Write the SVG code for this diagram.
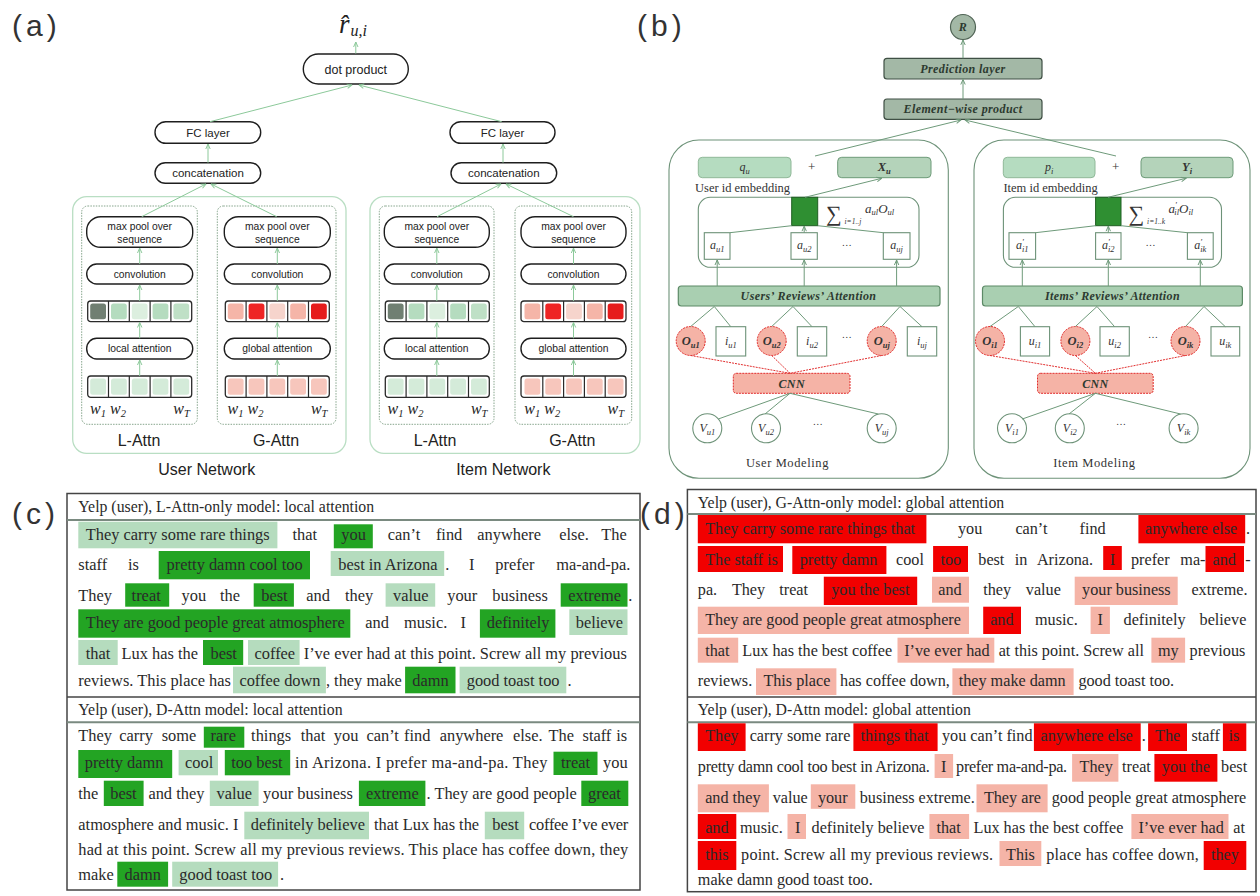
<svg xmlns="http://www.w3.org/2000/svg" width="1260" height="896" viewBox="0 0 1260 896">
<style>
.lbl{font-family:"Liberation Sans",Arial,sans-serif;fill:#333;font-size:30px;letter-spacing:4px}
.pill{fill:#fff;stroke:#1e1e1e;stroke-width:1.4}
.bt{font-family:"Liberation Sans",Arial,sans-serif;fill:#222;text-anchor:middle}
.s10{font-size:10.3px}
.s11{font-size:11.5px}
.s12{font-size:12.5px}
.net{fill:none;stroke:#b9dec3;stroke-width:1.3}
.sub{fill:none;stroke:#86a58c;stroke-width:1;stroke-dasharray:1.5 1.2}
.cellrow{fill:#fff;stroke:#2a2a2a;stroke-width:1.3}
.div{stroke:#2a2a2a;stroke-width:1.2}
.ac{stroke:#8cc99a;stroke-width:1;fill:none}
.w{font-family:"Liberation Serif",serif;font-style:italic;font-size:16px;fill:#222}
.nm{font-family:"Liberation Sans",Arial,sans-serif;font-size:16px;fill:#222;text-anchor:middle}
.bx{fill:#fff;stroke:#6d9278;stroke-width:1.1}
.bl{stroke:#6e9a7a;stroke-width:1;fill:none}
.rl{stroke:#e23030;stroke-width:1;fill:none;stroke-dasharray:2 1}
.mi{font-family:"Liberation Serif",serif;font-style:italic;font-size:12px;fill:#333;text-anchor:middle}
.mo{font-family:"Liberation Serif",serif;font-style:italic;font-weight:bold;font-size:12.5px;fill:#333;text-anchor:middle}
.sb{font-size:8.5px}
.bb{font-family:"Liberation Serif",serif;font-style:italic;font-weight:bold;font-size:12px;fill:#2d3a30;text-anchor:middle;letter-spacing:0.4px}
.cap{font-family:"Liberation Serif",serif;font-size:12.5px;fill:#333}
.t{font-family:"Liberation Serif",serif;font-size:16.4px;fill:#2a2a2a}
.u{font-family:"Liberation Serif",serif;font-size:16.2px;fill:#2a2a2a}
.hd{font-family:"Liberation Serif",serif;font-size:15.8px;fill:#2a2a2a}
.dg{fill:#23a423}
.lg{fill:#b5dcbe}
.rd{fill:#f20000}
.pk{fill:#f5b4a7}
</style>
<defs>
<marker id="ag" viewBox="0 0 6 6" refX="5.5" refY="3" markerWidth="6" markerHeight="6" orient="auto" markerUnits="userSpaceOnUse"><path d="M0.5,0.8 L5.5,3 L0.5,5.2" fill="none" stroke="#8cc99a" stroke-width="1"/></marker>
<marker id="ab" viewBox="0 0 6 6" refX="5.5" refY="3" markerWidth="6" markerHeight="6" orient="auto" markerUnits="userSpaceOnUse"><path d="M0.5,0.8 L5.5,3 L0.5,5.2" fill="none" stroke="#6e9a7a" stroke-width="1"/></marker>
</defs>
<rect width="1260" height="896" fill="#fff"/>

<!-- panel labels -->
<text class="lbl" x="12" y="35.5">(a)</text>
<text class="lbl" x="637" y="35.5">(b)</text>
<text class="lbl" x="12" y="523.5">(c)</text>
<text class="lbl" x="640" y="523.5">(d)</text>

<!-- ============ PANEL A ============ -->
<g id="a-rhat">
<text x="339" y="33" font-family="Liberation Serif,serif" font-style="italic" font-size="27" fill="#222">r&#x302;<tspan font-size="16" dy="3" dx="1">u,i</tspan></text>
</g>
<g id="a-dot"><rect class="pill" x="303.3" y="54" width="105" height="30" rx="15"/><text class="bt s12" x="355.8" y="73.5">dot product</text></g>
<g id="a-fc-user"><rect class="pill" x="155" y="121.7" width="105.7" height="21.6" rx="10.8"/><text class="bt s11" x="208" y="136.5">FC layer</text></g>
<g id="a-concat-user"><rect class="pill" x="155" y="162.7" width="105.7" height="20.6" rx="10.3"/><text class="bt s11" x="208" y="177">concatenation</text></g>
<g id="a-fc-item"><rect class="pill" x="450" y="121.7" width="105" height="21.6" rx="10.8"/><text class="bt s11" x="502.5" y="136.5">FC layer</text></g>
<g id="a-concat-item"><rect class="pill" x="451" y="162.7" width="105.7" height="20.6" rx="10.3"/><text class="bt s11" x="503.8" y="177">concatenation</text></g>

<g id="a-user-network">
<rect class="net" x="72.7" y="196.7" width="273.3" height="256.6" rx="14"/>
<rect class="sub" x="81.7" y="206" width="115.6" height="218.3" rx="6"/>
<rect class="sub" x="217.3" y="206" width="118.7" height="218.3" rx="6"/>
<text class="nm" x="139" y="445.5">L-Attn</text>
<text class="nm" x="276" y="445.5">G-Attn</text>
<text class="nm" x="206.7" y="475" font-size="16.5">User Network</text>
</g>
<g id="a-item-network">
<rect class="net" x="370" y="196.7" width="270" height="256.6" rx="14"/>
<rect class="sub" x="379.3" y="206" width="114.7" height="218.3" rx="6"/>
<rect class="sub" x="515" y="206" width="116.7" height="218.3" rx="6"/>
<text class="nm" x="435" y="445.5">L-Attn</text>
<text class="nm" x="572.3" y="445.5">G-Attn</text>
<text class="nm" x="503.3" y="475" font-size="16.5">Item Network</text>
</g>

<!-- columns -->
<g id="a-col-user-L" transform="translate(86.7,0)">
<rect class="pill" x="0" y="216.7" width="106" height="30.6" rx="14"/><text class="bt s10" x="53" y="229.5">max pool over</text><text class="bt s10" x="53" y="242.5">sequence</text>
<rect class="pill" x="0" y="264" width="106" height="20" rx="10"/><text class="bt s10" x="53" y="277.8">convolution</text>
<rect class="cellrow" x="1" y="301" width="104" height="20.7" rx="3"/>
<rect x="3.5" y="303.5" width="15.8" height="15.7" rx="2.5" fill="#707f72"/><rect x="24.3" y="303.5" width="15.8" height="15.7" rx="2.5" fill="#b5dcbf"/><rect x="45.1" y="303.5" width="15.8" height="15.7" rx="2.5" fill="#dcefdf"/><rect x="65.9" y="303.5" width="15.8" height="15.7" rx="2.5" fill="#b5dcbf"/><rect x="86.7" y="303.5" width="15.8" height="15.7" rx="2.5" fill="#bfe0c6"/>
<path class="div" d="M21.8,301V321.7M42.6,301V321.7M63.4,301V321.7M84.2,301V321.7"/>
<rect class="pill" x="0" y="338.3" width="106" height="20.7" rx="10"/><text class="bt s10" x="53" y="352.3">local attention</text>
<rect class="cellrow" x="1" y="376" width="104" height="21.3" rx="3"/>
<g fill="#d4ebd9"><rect x="3.5" y="378.5" width="15.8" height="16.3" rx="2.5"/><rect x="24.3" y="378.5" width="15.8" height="16.3" rx="2.5"/><rect x="45.1" y="378.5" width="15.8" height="16.3" rx="2.5"/><rect x="65.9" y="378.5" width="15.8" height="16.3" rx="2.5"/><rect x="86.7" y="378.5" width="15.8" height="16.3" rx="2.5"/></g>
<path class="div" d="M21.8,376V397.3M42.6,376V397.3M63.4,376V397.3M84.2,376V397.3"/>
<text class="w" x="3.3" y="413.5">w<tspan font-size="10.5" dy="3">1</tspan></text>
<text class="w" x="23.3" y="413.5">w<tspan font-size="10.5" dy="3">2</tspan></text>
<text class="w" x="86.6" y="413.5">w<tspan font-size="10.5" dy="3">T</tspan></text>
</g>
<g id="a-col-user-G" transform="translate(224.3,0)">
<rect class="pill" x="0" y="216.7" width="106" height="30.6" rx="14"/><text class="bt s10" x="53" y="229.5">max pool over</text><text class="bt s10" x="53" y="242.5">sequence</text>
<rect class="pill" x="0" y="264" width="106" height="20" rx="10"/><text class="bt s10" x="53" y="277.8">convolution</text>
<rect class="cellrow" x="1" y="301" width="104" height="20.7" rx="3"/>
<rect x="3.5" y="303.5" width="15.8" height="15.7" rx="2.5" fill="#f5b5a8"/><rect x="24.3" y="303.5" width="15.8" height="15.7" rx="2.5" fill="#ee2424"/><rect x="45.1" y="303.5" width="15.8" height="15.7" rx="2.5" fill="#f6d4cc"/><rect x="65.9" y="303.5" width="15.8" height="15.7" rx="2.5" fill="#f5b5a8"/><rect x="86.7" y="303.5" width="15.8" height="15.7" rx="2.5" fill="#e61c1c"/>
<path class="div" d="M21.8,301V321.7M42.6,301V321.7M63.4,301V321.7M84.2,301V321.7"/>
<rect class="pill" x="0" y="338.3" width="106" height="20.7" rx="10"/><text class="bt s10" x="53" y="352.3">global attention</text>
<rect class="cellrow" x="1" y="376" width="104" height="21.3" rx="3"/>
<g fill="#f7c6bc"><rect x="3.5" y="378.5" width="15.8" height="16.3" rx="2.5"/><rect x="24.3" y="378.5" width="15.8" height="16.3" rx="2.5"/><rect x="45.1" y="378.5" width="15.8" height="16.3" rx="2.5"/><rect x="65.9" y="378.5" width="15.8" height="16.3" rx="2.5"/><rect x="86.7" y="378.5" width="15.8" height="16.3" rx="2.5"/></g>
<path class="div" d="M21.8,376V397.3M42.6,376V397.3M63.4,376V397.3M84.2,376V397.3"/>
<text class="w" x="3.3" y="413.5">w<tspan font-size="10.5" dy="3">1</tspan></text>
<text class="w" x="23.3" y="413.5">w<tspan font-size="10.5" dy="3">2</tspan></text>
<text class="w" x="86.6" y="413.5">w<tspan font-size="10.5" dy="3">T</tspan></text>
</g>
<g id="a-col-item-L" transform="translate(384.3,0)">
<rect class="pill" x="0" y="216.7" width="105" height="30.6" rx="14"/><text class="bt s10" x="52.5" y="229.5">max pool over</text><text class="bt s10" x="52.5" y="242.5">sequence</text>
<rect class="pill" x="0" y="264" width="105" height="20" rx="10"/><text class="bt s10" x="52.5" y="277.8">convolution</text>
<rect class="cellrow" x="1" y="301" width="104" height="20.7" rx="3"/>
<rect x="3.5" y="303.5" width="15.8" height="15.7" rx="2.5" fill="#707f72"/><rect x="24.3" y="303.5" width="15.8" height="15.7" rx="2.5" fill="#b5dcbf"/><rect x="45.1" y="303.5" width="15.8" height="15.7" rx="2.5" fill="#dcefdf"/><rect x="65.9" y="303.5" width="15.8" height="15.7" rx="2.5" fill="#b5dcbf"/><rect x="86.7" y="303.5" width="15.8" height="15.7" rx="2.5" fill="#bfe0c6"/>
<path class="div" d="M21.8,301V321.7M42.6,301V321.7M63.4,301V321.7M84.2,301V321.7"/>
<rect class="pill" x="0" y="338.3" width="105" height="20.7" rx="10"/><text class="bt s10" x="52.5" y="352.3">local attention</text>
<rect class="cellrow" x="1" y="376" width="104" height="21.3" rx="3"/>
<g fill="#d4ebd9"><rect x="3.5" y="378.5" width="15.8" height="16.3" rx="2.5"/><rect x="24.3" y="378.5" width="15.8" height="16.3" rx="2.5"/><rect x="45.1" y="378.5" width="15.8" height="16.3" rx="2.5"/><rect x="65.9" y="378.5" width="15.8" height="16.3" rx="2.5"/><rect x="86.7" y="378.5" width="15.8" height="16.3" rx="2.5"/></g>
<path class="div" d="M21.8,376V397.3M42.6,376V397.3M63.4,376V397.3M84.2,376V397.3"/>
<text class="w" x="3.3" y="413.5">w<tspan font-size="10.5" dy="3">1</tspan></text>
<text class="w" x="23.3" y="413.5">w<tspan font-size="10.5" dy="3">2</tspan></text>
<text class="w" x="86.6" y="413.5">w<tspan font-size="10.5" dy="3">T</tspan></text>
</g>
<g id="a-col-item-G" transform="translate(521,0)">
<rect class="pill" x="0" y="216.7" width="105" height="30.6" rx="14"/><text class="bt s10" x="52.5" y="229.5">max pool over</text><text class="bt s10" x="52.5" y="242.5">sequence</text>
<rect class="pill" x="0" y="264" width="105" height="20" rx="10"/><text class="bt s10" x="52.5" y="277.8">convolution</text>
<rect class="cellrow" x="0" y="301" width="105" height="20.7" rx="3"/>
<rect x="3.5" y="303.5" width="15.8" height="15.7" rx="2.5" fill="#f5b5a8"/><rect x="24.3" y="303.5" width="15.8" height="15.7" rx="2.5" fill="#ee2424"/><rect x="45.1" y="303.5" width="15.8" height="15.7" rx="2.5" fill="#f6d4cc"/><rect x="65.9" y="303.5" width="15.8" height="15.7" rx="2.5" fill="#f5b5a8"/><rect x="86.7" y="303.5" width="15.8" height="15.7" rx="2.5" fill="#e61c1c"/>
<path class="div" d="M21.8,301V321.7M42.6,301V321.7M63.4,301V321.7M84.2,301V321.7"/>
<rect class="pill" x="0" y="338.3" width="105" height="20.7" rx="10"/><text class="bt s10" x="52.5" y="352.3">global attention</text>
<rect class="cellrow" x="0" y="376" width="105" height="21.3" rx="3"/>
<g fill="#f7c6bc"><rect x="3.5" y="378.5" width="15.8" height="16.3" rx="2.5"/><rect x="24.3" y="378.5" width="15.8" height="16.3" rx="2.5"/><rect x="45.1" y="378.5" width="15.8" height="16.3" rx="2.5"/><rect x="65.9" y="378.5" width="15.8" height="16.3" rx="2.5"/><rect x="86.7" y="378.5" width="15.8" height="16.3" rx="2.5"/></g>
<path class="div" d="M21.8,376V397.3M42.6,376V397.3M63.4,376V397.3M84.2,376V397.3"/>
<text class="w" x="3.3" y="413.5">w<tspan font-size="10.5" dy="3">1</tspan></text>
<text class="w" x="23.3" y="413.5">w<tspan font-size="10.5" dy="3">2</tspan></text>
<text class="w" x="86.6" y="413.5">w<tspan font-size="10.5" dy="3">T</tspan></text>
</g>

<g id="a-connectors" class="ac" marker-end="url(#ag)">
<line x1="355.8" y1="53.5" x2="355.8" y2="42"/>
<line x1="210" y1="121.7" x2="352" y2="85"/>
<line x1="501.7" y1="121.7" x2="359" y2="85"/>
<line x1="208" y1="162.7" x2="208" y2="144"/>
<line x1="503" y1="162.7" x2="503" y2="144"/>
<line x1="141.7" y1="216.7" x2="206" y2="184"/>
<line x1="276.7" y1="216.7" x2="211" y2="184"/>
<line x1="437" y1="216.7" x2="501" y2="184"/>
<line x1="573.5" y1="216.7" x2="506" y2="184"/>
<line x1="139.7" y1="264" x2="139.7" y2="248"/><line x1="139.7" y1="301" x2="139.7" y2="285"/><line x1="139.7" y1="338.3" x2="139.7" y2="322.5"/><line x1="139.7" y1="376" x2="139.7" y2="360"/>
<line x1="277.3" y1="264" x2="277.3" y2="248"/><line x1="277.3" y1="301" x2="277.3" y2="285"/><line x1="277.3" y1="338.3" x2="277.3" y2="322.5"/><line x1="277.3" y1="376" x2="277.3" y2="360"/>
<line x1="436.8" y1="264" x2="436.8" y2="248"/><line x1="436.8" y1="301" x2="436.8" y2="285"/><line x1="436.8" y1="338.3" x2="436.8" y2="322.5"/><line x1="436.8" y1="376" x2="436.8" y2="360"/>
<line x1="573.5" y1="264" x2="573.5" y2="248"/><line x1="573.5" y1="301" x2="573.5" y2="285"/><line x1="573.5" y1="338.3" x2="573.5" y2="322.5"/><line x1="573.5" y1="376" x2="573.5" y2="360"/>
</g>

<!-- ============ PANEL B ============ -->
<g id="b-R"><circle cx="963" cy="27" r="12.5" fill="#a3b8a6" stroke="#4f6354" stroke-width="1.2"/><text class="bb" x="963" y="30.5" font-size="9">R</text></g>
<g id="b-prediction"><rect x="884" y="58.3" width="158" height="20.7" rx="3" fill="#a3b8a6" stroke="#3f4f44" stroke-width="1.2"/><text class="bb" x="963" y="72.8">Prediction layer</text></g>
<g id="b-elementwise"><rect x="884" y="99" width="158" height="20.3" rx="3" fill="#a3b8a6" stroke="#3f4f44" stroke-width="1.2"/><text class="bb" x="963" y="113.3">Element−wise product</text></g>

<g id="b-user-modeling">
<rect class="bx" x="669" y="140" width="279.3" height="338.3" rx="30" fill="none"/>
<rect x="698.3" y="157.3" width="92.7" height="20.4" rx="4" fill="#b5dcc0" stroke="#8fb898"/>
<text class="mi" x="744.7" y="171" font-size="13">q<tspan class="sb" dy="2.5">u</tspan></text>
<text x="811.7" y="171" font-family="Liberation Serif,serif" font-size="13" fill="#333" text-anchor="middle">+</text>
<rect x="837.7" y="157.3" width="93.3" height="20.4" rx="4" fill="#b4d3ba" stroke="#6d9a78"/>
<text class="mo" x="884.3" y="171">X<tspan class="sb" dy="2.5">u</tspan></text>
<text class="cap" x="695" y="192">User id embedding</text>
<rect class="bx" x="698.3" y="197.3" width="220.7" height="70" rx="12" fill="none"/>
<rect x="791.7" y="197.3" width="26" height="28.4" fill="#2f8f32" stroke="#1f5e22"/>
<text x="826" y="221" font-family="Liberation Serif,serif" font-size="22" fill="#333">∑</text>
<text x="844.5" y="224" font-family="Liberation Serif,serif" font-style="italic" font-size="7.5" fill="#333">i=1..j</text>
<text x="865" y="213" font-family="Liberation Serif,serif" font-style="italic" font-size="13" fill="#333">a<tspan font-size="8.5" dy="2">ul</tspan><tspan dy="-2">O</tspan><tspan font-size="8.5" dy="2">ul</tspan></text>
<rect class="bx" x="704.3" y="232.7" width="25.7" height="26.6"/><text class="mi" x="717.2" y="249">a<tspan class="sb" dy="2.5">u1</tspan></text>
<rect class="bx" x="791" y="232.7" width="26.3" height="26.6"/><text class="mi" x="804.2" y="249">a<tspan class="sb" dy="2.5">u2</tspan></text>
<rect class="bx" x="883.3" y="232.7" width="26.7" height="26.6"/><text class="mi" x="896.6" y="249">a<tspan class="sb" dy="2.5">uj</tspan></text>
<text x="846.7" y="246" font-family="Liberation Serif,serif" font-size="10" fill="#333" text-anchor="middle">…</text>
<rect x="678.3" y="286" width="261.7" height="20" rx="3" fill="#a9cfb1" stroke="#5d8a67" stroke-width="1.2"/>
<text class="bb" x="808.5" y="300">Users’ Reviews’ Attention</text>
<circle cx="690.7" cy="341" r="14.5" fill="#f5b3a6" stroke="#e02a2a" stroke-dasharray="2 1"/><text class="mo" x="690.7" y="345">O<tspan class="sb" dy="2.5">u1</tspan></text>
<circle cx="771.7" cy="341" r="14.5" fill="#f5b3a6" stroke="#e02a2a" stroke-dasharray="2 1"/><text class="mo" x="771.7" y="345">O<tspan class="sb" dy="2.5">u2</tspan></text>
<circle cx="881.7" cy="341" r="14.5" fill="#f5b3a6" stroke="#e02a2a" stroke-dasharray="2 1"/><text class="mo" x="881.7" y="345">O<tspan class="sb" dy="2.5">uj</tspan></text>
<rect class="bx" x="716" y="326.7" width="29.7" height="29.3"/><text class="mi" x="730.8" y="345">i<tspan class="sb" dy="2.5">u1</tspan></text>
<rect class="bx" x="797.3" y="326.7" width="29.4" height="29.3"/><text class="mi" x="812" y="345">i<tspan class="sb" dy="2.5">u2</tspan></text>
<rect class="bx" x="907.3" y="326.7" width="29.4" height="29.3"/><text class="mi" x="922" y="345">i<tspan class="sb" dy="2.5">uj</tspan></text>
<text x="846.7" y="338" font-family="Liberation Serif,serif" font-size="10" fill="#333" text-anchor="middle">…</text>
<rect x="733.3" y="373.3" width="116.7" height="20" rx="3" fill="#f5b3a6" stroke="#e02a2a" stroke-dasharray="2 1"/>
<text class="bb" x="791.7" y="387.5">CNN</text>
<circle class="bx" cx="707.3" cy="428.3" r="14.5"/><text class="mi" x="707.3" y="432">V<tspan class="sb" dy="2.5">u1</tspan></text>
<circle class="bx" cx="766" cy="428.3" r="14.5"/><text class="mi" x="766" y="432">V<tspan class="sb" dy="2.5">u2</tspan></text>
<circle class="bx" cx="881.7" cy="428.3" r="14.5"/><text class="mi" x="881.7" y="432">V<tspan class="sb" dy="2.5">uj</tspan></text>
<text x="817.7" y="425" font-family="Liberation Serif,serif" font-size="10" fill="#333" text-anchor="middle">…</text>
<text class="cap" x="787.5" y="467" text-anchor="middle" letter-spacing="0.6">User Modeling</text>
</g>

<g id="b-item-modeling" transform="translate(304,0)">
<rect class="bx" x="670" y="140" width="276" height="338.3" rx="30" fill="none"/>
<rect x="699.3" y="157.3" width="91.7" height="20.4" rx="4" fill="#b5dcc0" stroke="#8fb898"/>
<text class="mi" x="745.2" y="171" font-size="13">p<tspan class="sb" dy="2.5">i</tspan></text>
<text x="811.7" y="171" font-family="Liberation Serif,serif" font-size="13" fill="#333" text-anchor="middle">+</text>
<rect x="837" y="157.3" width="92" height="20.4" rx="4" fill="#b4d3ba" stroke="#6d9a78"/>
<text class="mo" x="883" y="171">Y<tspan class="sb" dy="2.5">i</tspan></text>
<text class="cap" x="699.4" y="192">Item id embedding</text>
<rect class="bx" x="699.4" y="197.3" width="218.1" height="70" rx="12" fill="none"/>
<rect x="791.6" y="197.3" width="25.4" height="28.4" fill="#2f8f32" stroke="#1f5e22"/>
<text x="824.6" y="221" font-family="Liberation Serif,serif" font-size="22" fill="#333">∑</text>
<text x="843.1" y="224" font-family="Liberation Serif,serif" font-style="italic" font-size="7.5" fill="#333">i=1..k</text>
<text x="864.5" y="213" font-family="Liberation Serif,serif" font-style="italic" font-size="13" fill="#333">a<tspan font-size="8.5" dy="-5">′</tspan><tspan font-size="8.5" dy="7" dx="-2.5">il</tspan><tspan dy="-2">O</tspan><tspan font-size="8.5" dy="2">il</tspan></text>
<rect class="bx" x="705" y="232.7" width="26.6" height="26.6"/><text class="mi" x="718.3" y="249">a<tspan class="sb" dy="-4">′</tspan><tspan class="sb" dy="6.5" dx="-2">i1</tspan></text>
<rect class="bx" x="791.6" y="232.7" width="25.4" height="26.6"/><text class="mi" x="804.3" y="249">a<tspan class="sb" dy="-4">′</tspan><tspan class="sb" dy="6.5" dx="-2">i2</tspan></text>
<rect class="bx" x="883.4" y="232.7" width="25.8" height="26.6"/><text class="mi" x="896.3" y="249">a<tspan class="sb" dy="-4">′</tspan><tspan class="sb" dy="6.5" dx="-2">ik</tspan></text>
<text x="846.6" y="246" font-family="Liberation Serif,serif" font-size="10" fill="#333" text-anchor="middle">…</text>
<rect x="678.5" y="286" width="259.9" height="20" rx="3" fill="#a9cfb1" stroke="#5d8a67" stroke-width="1.2"/>
<text class="bb" x="808.5" y="300">Items’ Reviews’ Attention</text>
<circle cx="686" cy="341" r="14.5" fill="#f5b3a6" stroke="#e02a2a" stroke-dasharray="2 1"/><text class="mo" x="686" y="345">O<tspan class="sb" dy="2.5">i1</tspan></text>
<circle cx="771.4" cy="341" r="14.5" fill="#f5b3a6" stroke="#e02a2a" stroke-dasharray="2 1"/><text class="mo" x="771.4" y="345">O<tspan class="sb" dy="2.5">i2</tspan></text>
<circle cx="881.5" cy="341" r="14.5" fill="#f5b3a6" stroke="#e02a2a" stroke-dasharray="2 1"/><text class="mo" x="881.5" y="345">O<tspan class="sb" dy="2.5">ik</tspan></text>
<rect class="bx" x="716.4" y="326.7" width="29.2" height="29.3"/><text class="mi" x="731" y="345">u<tspan class="sb" dy="2.5">i1</tspan></text>
<rect class="bx" x="796" y="326.7" width="29.3" height="29.3"/><text class="mi" x="810.6" y="345">u<tspan class="sb" dy="2.5">i2</tspan></text>
<rect class="bx" x="907" y="326.7" width="28.7" height="29.3"/><text class="mi" x="921.3" y="345">u<tspan class="sb" dy="2.5">ik</tspan></text>
<text x="849" y="338" font-family="Liberation Serif,serif" font-size="10" fill="#333" text-anchor="middle">…</text>
<rect x="733.5" y="373.3" width="115.7" height="20" rx="3" fill="#f5b3a6" stroke="#e02a2a" stroke-dasharray="2 1"/>
<text class="bb" x="791.4" y="387.5">CNN</text>
<circle class="bx" cx="708" cy="428.3" r="14.5"/><text class="mi" x="708" y="432">V<tspan class="sb" dy="2.5">i1</tspan></text>
<circle class="bx" cx="765.8" cy="428.3" r="14.5"/><text class="mi" x="765.8" y="432">V<tspan class="sb" dy="2.5">i2</tspan></text>
<circle class="bx" cx="879.6" cy="428.3" r="14.5"/><text class="mi" x="879.6" y="432">V<tspan class="sb" dy="2.5">ik</tspan></text>
<text x="817" y="425" font-family="Liberation Serif,serif" font-size="10" fill="#333" text-anchor="middle">…</text>
<text class="cap" x="790.4" y="467" text-anchor="middle" letter-spacing="0.6">Item Modeling</text>
</g>

<g id="b-connectors">
<g class="bl" marker-end="url(#ab)">
<line x1="963" y1="58.3" x2="963" y2="40"/>
<line x1="963" y1="99" x2="963" y2="79.5"/>
<line x1="815" y1="156" x2="961" y2="120"/>
<line x1="1116" y1="156" x2="965" y2="120"/>
<line x1="805" y1="197.3" x2="881.7" y2="178.3"/>
<line x1="1108" y1="197.3" x2="1186" y2="178.3"/>
<line x1="717.2" y1="286" x2="717.2" y2="260"/>
<line x1="804.2" y1="286" x2="804.2" y2="260"/>
<line x1="896.6" y1="286" x2="896.6" y2="260"/>
<line x1="1022.3" y1="286" x2="1022.3" y2="260"/>
<line x1="1108.3" y1="286" x2="1108.3" y2="260"/>
<line x1="1200.3" y1="286" x2="1200.3" y2="260"/>
<line x1="804.2" y1="232.7" x2="804.2" y2="226.2"/>
<line x1="1108.3" y1="232.7" x2="1108.3" y2="226.2"/>
</g>
<g class="bl">
<line x1="791.7" y1="225.7" x2="730" y2="232.7"/>
<line x1="817.7" y1="225.7" x2="883.3" y2="232.7"/>
<line x1="1095.6" y1="225.7" x2="1035.6" y2="232.7"/>
<line x1="1121" y1="225.7" x2="1187.4" y2="232.7"/>
<path d="M690.7,326.5 L714.3,306.5 L730.8,326.7 M771.7,326.5 L793,306.5 L812,326.7 M881.7,326.5 L900,306.5 L922,326.7"/>
<path d="M990,326.5 L1018.3,306.5 L1035,326.7 M1075.4,326.5 L1097,306.5 L1114.6,326.7 M1185.5,326.5 L1204,306.5 L1225.3,326.7"/>
<path d="M718.3,419 L790,393.3 M765,414 L790,393.3 M878.3,414 L790,393.3"/>
<path d="M1022.3,419 L1095.4,393.3 M1069,414 L1095.4,393.3 M1180.6,414 L1095.4,393.3"/>
</g>
<g class="rl">
<path d="M690.7,355.5 L790,373.3 M771.7,355.5 L790,373.3 M881.7,355.5 L790,373.3"/>
<path d="M990,355.5 L1095.4,373.3 M1075.4,355.5 L1095.4,373.3 M1185.5,355.5 L1095.4,373.3"/>
</g>
</g>

<!-- ============ PANEL C ============ -->
<g id="panel-c">
<rect x="67" y="493.5" width="573" height="396.5" fill="none" stroke="#444" stroke-width="1.5"/>
<line x1="67" y1="520" x2="640" y2="520" stroke="#7a8a80" stroke-width="2"/>
<line x1="67" y1="697" x2="640" y2="697" stroke="#444" stroke-width="1.5"/>
<line x1="67" y1="722.3" x2="640" y2="722.3" stroke="#7a8a80" stroke-width="2"/>
<text class="hd" x="78.3" y="512">Yelp (user), L-Attn-only model: local attention</text>
<text class="hd" x="78.3" y="715">Yelp (user), D-Attn model: local attention</text>

<g id="c-top-highlights">
<rect class="lg" x="78.3" y="521.7" width="199.1" height="26.6"/>
<rect class="dg" x="333.8" y="524.3" width="39" height="24"/>
<rect class="dg" x="158.7" y="551" width="151.3" height="28.3"/>
<rect class="lg" x="330.7" y="551" width="113.5" height="25"/>
<rect class="dg" x="125.2" y="583.3" width="44" height="23.4"/>
<rect class="dg" x="253.7" y="583.3" width="40.2" height="23.4"/>
<rect class="lg" x="385.6" y="583.3" width="49.6" height="23.4"/>
<rect class="dg" x="560.7" y="583.3" width="66.8" height="23.4"/>
<rect class="dg" x="78.3" y="609.3" width="272" height="28.4"/>
<rect class="dg" x="479.9" y="609.3" width="75.5" height="28.4"/>
<rect class="lg" x="569.3" y="609.3" width="58.2" height="25.7"/>
<rect class="lg" x="78.3" y="640" width="39.4" height="25"/>
<rect class="dg" x="203" y="640" width="40.2" height="25"/>
<rect class="lg" x="248" y="640" width="51.6" height="25"/>
<rect class="lg" x="233" y="666.7" width="92.9" height="26.6"/>
<rect class="dg" x="405.1" y="666.7" width="50.4" height="26.6"/>
<rect class="lg" x="459.6" y="666.7" width="106.7" height="26.6"/>
</g>
<text class="t" y="539.5"><tspan x="85.8">They carry some rare things</tspan><tspan x="292.4">that</tspan><tspan x="341.3">you</tspan><tspan x="387.8">can’t</tspan><tspan x="435.9">find</tspan><tspan x="477.3">anywhere</tspan><tspan x="559.2">else.</tspan><tspan x="601.2">The</tspan></text>
<text class="t" y="570"><tspan x="78.3">staff</tspan><tspan x="127.9">is</tspan><tspan x="166.6">pretty damn cool too</tspan><tspan x="338.3">best in Arizona</tspan><tspan x="445.3">.</tspan><tspan x="469">I</tspan><tspan x="495.3">prefer</tspan><tspan x="556.2">ma-and-pa.</tspan></text>
<text class="t" y="601"><tspan x="78.3">They</tspan><tspan x="131.6">treat</tspan><tspan x="181.6">you</tspan><tspan x="219.9">the</tspan><tspan x="261.2">best</tspan><tspan x="306.3">and</tspan><tspan x="345">they</tspan><tspan x="393.1">value</tspan><tspan x="447.2">your</tspan><tspan x="492.3">business</tspan><tspan x="568.2">extreme</tspan><tspan x="628.3">.</tspan></text>
<text class="t" y="628"><tspan x="85.8">They are good people great atmosphere</tspan><tspan x="365.3">and</tspan><tspan x="404">music.</tspan><tspan x="460.4">I</tspan><tspan x="486.7">definitely</tspan><tspan x="575.7">believe</tspan></text>
<text class="t" y="658.5"><tspan x="85.8">that</tspan><tspan x="121.5">Lux has the</tspan><tspan x="210.5">best</tspan><tspan x="254.5">coffee</tspan><tspan x="303.7">I’ve ever had at this point. Screw all my previous</tspan></text>
<text class="t" y="686"><tspan x="78.3">reviews. This place has</tspan><tspan x="239.4">coffee down</tspan><tspan x="325.9">, they make</tspan><tspan x="412.3">damn</tspan><tspan x="466.7">good toast too</tspan><tspan x="567.4">.</tspan></text>

<g id="c-bottom-highlights">
<rect class="dg" x="203.8" y="726.7" width="40.5" height="21"/>
<rect class="dg" x="78.3" y="750" width="93.9" height="28"/>
<rect class="lg" x="178.6" y="750" width="39.4" height="25.3"/>
<rect class="dg" x="224.8" y="750" width="65.4" height="25.3"/>
<rect class="dg" x="553.5" y="751.7" width="44" height="23.3"/>
<rect class="dg" x="103.8" y="780.7" width="39.8" height="25.3"/>
<rect class="lg" x="209.8" y="780.7" width="48.8" height="25.3"/>
<rect class="dg" x="358.9" y="780.7" width="66.5" height="25.3"/>
<rect class="dg" x="581.3" y="780.7" width="47" height="25.3"/>
<rect class="lg" x="244.3" y="811.7" width="124.7" height="27.6"/>
<rect class="lg" x="484.8" y="811.7" width="39.4" height="27.6"/>
<rect class="dg" x="117.3" y="861.7" width="50.8" height="25"/>
<rect class="lg" x="172.2" y="861.7" width="105.9" height="25"/>
</g>
<text class="t" y="741"><tspan x="78.3">They</tspan><tspan x="119.2">carry</tspan><tspan x="161.7">some</tspan><tspan x="210.5">rare</tspan><tspan x="251.1">things</tspan><tspan x="300.7">that</tspan><tspan x="333.8">you</tspan><tspan x="366.4">can’t</tspan><tspan x="404">find</tspan><tspan x="439.7">anywhere</tspan><tspan x="513">else.</tspan><tspan x="548.6">The</tspan><tspan x="582.5">staff</tspan><tspan x="616.3">is</tspan></text>
<text class="t" y="768"><tspan x="84.7">pretty damn</tspan><tspan x="185">cool</tspan><tspan x="231.2">too best</tspan><tspan x="561">treat</tspan><tspan x="603.1">you</tspan></text>
<text class="t" x="295" y="768" textLength="252.5" lengthAdjust="spacing">in Arizona. I prefer ma-and-pa. They</text>
<text class="t" y="799"><tspan x="78.3">the</tspan><tspan x="110.2">best</tspan><tspan x="148.4">and they</tspan><tspan x="216.5">value</tspan><tspan x="263.1">your business</tspan><tspan x="366">extreme</tspan><tspan x="426.5">. They are good people</tspan><tspan x="588.1">great</tspan></text>
<text class="t" y="830"><tspan x="78.3">atmosphere and music. I</tspan><tspan x="250.7">definitely believe</tspan><tspan x="374">that Lux has the</tspan><tspan x="492.3">best</tspan></text>
<text class="t" x="529.1" y="830" textLength="99.2" lengthAdjust="spacing">coffee I’ve ever</text>
<text class="t" x="78.3" y="855" textLength="550" lengthAdjust="spacing">had at this point. Screw all my previous reviews. This place has coffee down, they</text>
<text class="t" y="880"><tspan x="78.3">make</tspan><tspan x="124.5">damn</tspan><tspan x="179.3">good toast too</tspan><tspan x="280">.</tspan></text>
</g>

<!-- ============ PANEL D ============ -->
<g id="panel-d">
<rect x="687.4" y="489.5" width="568.6" height="402.2" fill="none" stroke="#444" stroke-width="1.5"/>
<line x1="687.4" y1="514" x2="1256" y2="514" stroke="#7a8a80" stroke-width="2"/>
<line x1="687.4" y1="697" x2="1256" y2="697" stroke="#444" stroke-width="1.5"/>
<line x1="687.4" y1="722.3" x2="1256" y2="722.3" stroke="#7a8a80" stroke-width="2"/>
<text class="hd" x="697.8" y="508">Yelp (user), G-Attn-only model: global attention</text>
<text class="hd" x="697.8" y="715">Yelp (user), D-Attn model: global attention</text>

<g id="d-top-highlights">
<rect class="rd" x="697.8" y="515" width="228.6" height="28.3"/>
<rect class="rd" x="1138.4" y="515" width="106.8" height="28.3"/>
<rect class="rd" x="697.8" y="546" width="85.2" height="26"/>
<rect class="rd" x="792.3" y="546" width="94.1" height="28"/>
<rect class="rd" x="933.1" y="546" width="34.9" height="26"/>
<rect class="rd" x="1103.2" y="546" width="18.6" height="24"/>
<rect class="rd" x="1205.5" y="546" width="38.5" height="26"/>
<rect class="rd" x="823.8" y="576.7" width="93.4" height="28.3"/>
<rect class="pk" x="932" y="576.7" width="37" height="26"/>
<rect class="pk" x="1074.7" y="576.7" width="103" height="28.3"/>
<rect class="pk" x="697.8" y="606.7" width="271.2" height="27.3"/>
<rect class="rd" x="983.2" y="606.7" width="37.8" height="27.3"/>
<rect class="pk" x="1090.6" y="606.7" width="19.3" height="27.3"/>
<rect class="pk" x="697.8" y="637.7" width="40.4" height="25"/>
<rect class="pk" x="897.5" y="637.7" width="96.8" height="25"/>
<rect class="pk" x="1151.4" y="637.7" width="33.7" height="25"/>
<rect class="pk" x="756" y="668.3" width="80.4" height="26.7"/>
<rect class="pk" x="952.4" y="668.3" width="121.2" height="26.7"/>
</g>
<text class="u" y="533.5"><tspan x="705.2">They carry some rare things that</tspan><tspan x="958">you</tspan><tspan x="1015.4">can’t</tspan><tspan x="1079.5">find</tspan><tspan x="1145.1">anywhere else</tspan><tspan x="1245.9">.</tspan></text>
<text class="u" y="564.5"><tspan x="705.2">The staff is</tspan><tspan x="799.7">pretty damn</tspan><tspan x="896.1">cool</tspan><tspan x="940.5">too</tspan><tspan x="978.3">best</tspan><tspan x="1014.7">in</tspan><tspan x="1036.9">Arizona.</tspan><tspan x="1109.7">I</tspan><tspan x="1131">prefer</tspan><tspan x="1180.3">ma-</tspan><tspan x="1212.6">and</tspan><tspan x="1245.2">-</tspan></text>
<text class="u" y="594.5"><tspan x="697.8">pa.</tspan><tspan x="731.9">They</tspan><tspan x="779.3">treat</tspan><tspan x="831.2">you the best</tspan><tspan x="938.3">and</tspan><tspan x="983.2">they</tspan><tspan x="1025.8">value</tspan><tspan x="1082.1">your business</tspan><tspan x="1191.4">extreme.</tspan></text>
<text class="u" y="625"><tspan x="705.2">They are good people great atmosphere</tspan><tspan x="990.2">and</tspan><tspan x="1035">music.</tspan><tspan x="1097.6">I</tspan><tspan x="1123.6">definitely</tspan><tspan x="1199.6">believe</tspan></text>
<text class="u" y="656"><tspan x="705.2">that</tspan><tspan x="742.3">Lux has the best coffee</tspan><tspan x="904.2">I’ve ever had</tspan><tspan x="998.7">at this point. Screw all</tspan><tspan x="1158">my</tspan><tspan x="1189.6">previous</tspan></text>
<text class="u" y="686"><tspan x="697.8">reviews.</tspan><tspan x="763.4">This place</tspan><tspan x="840.1">has coffee down,</tspan><tspan x="958.7">they make damn</tspan><tspan x="1078.4">good toast too.</tspan></text>

<g id="d-bottom-highlights">
<rect class="rd" x="697.8" y="723.3" width="47.8" height="27.7"/>
<rect class="rd" x="853.4" y="723.3" width="84.2" height="27.7"/>
<rect class="rd" x="1033.9" y="723.3" width="106.8" height="27.7"/>
<rect class="rd" x="1148.1" y="723.3" width="38.9" height="27.7"/>
<rect class="rd" x="1222.9" y="723.3" width="23.4" height="27.7"/>
<rect class="pk" x="934.6" y="754" width="18.5" height="24"/>
<rect class="pk" x="1072.1" y="754" width="46.3" height="27.7"/>
<rect class="rd" x="1154.4" y="754" width="63" height="27.7"/>
<rect class="pk" x="697.8" y="784.3" width="71.1" height="28"/>
<rect class="pk" x="810.8" y="784.3" width="44.5" height="24.5"/>
<rect class="pk" x="976.5" y="784.3" width="71.1" height="28"/>
<rect class="rd" x="697.8" y="814" width="38.5" height="25"/>
<rect class="pk" x="787.5" y="814" width="18.5" height="25"/>
<rect class="pk" x="929.4" y="814" width="39.7" height="25"/>
<rect class="pk" x="1131.4" y="814" width="97.1" height="25"/>
<rect class="rd" x="697.8" y="841" width="38.5" height="29"/>
<rect class="pk" x="999.5" y="841" width="41.8" height="25"/>
<rect class="rd" x="1203.7" y="841" width="42.6" height="29"/>
</g>
<text class="u" y="741"><tspan x="705.2">They</tspan><tspan x="749.7">carry some rare</tspan><tspan x="860.5">things that</tspan><tspan x="942">you can’t find</tspan><tspan x="1040.6">anywhere else</tspan><tspan x="1141.8">.</tspan><tspan x="1155.1">The</tspan><tspan x="1191.4">staff</tspan><tspan x="1228.5">is</tspan></text>
<text class="u" x="697.8" y="772" textLength="232" lengthAdjust="spacing">pretty damn cool too best in Arizona.</text>
<text class="u" y="772"><tspan x="941">I</tspan><tspan x="1079.6">They</tspan><tspan x="1122.1">treat</tspan><tspan x="1161.8">you the</tspan><tspan x="1221.1">best</tspan></text>
<text class="u" x="956.1" y="772" textLength="111" lengthAdjust="spacing">prefer ma-and-pa.</text>
<text class="u" y="802.5"><tspan x="705.2">and they</tspan><tspan x="772.7">value</tspan><tspan x="817.9">your</tspan><tspan x="859.7">business extreme.</tspan><tspan x="983.9">They are</tspan></text>
<text class="u" x="1051.7" y="802.5" textLength="194.6" lengthAdjust="spacing">good people great atmosphere</text>
<text class="u" y="832.5"><tspan x="705.2">and</tspan><tspan x="740">music.</tspan><tspan x="795">I</tspan><tspan x="811.6">definitely believe</tspan><tspan x="936.5">that</tspan><tspan x="973.5">Lux has the best coffee</tspan><tspan x="1138.4">I’ve ever had</tspan><tspan x="1233.3">at</tspan></text>
<text class="u" y="859.5"><tspan x="705.2">this</tspan><tspan x="1006.1">This</tspan><tspan x="1211">they</tspan></text>
<text class="u" x="741.1" y="859.5" textLength="252" lengthAdjust="spacing">point. Screw all my previous reviews.</text>
<text class="u" x="1046.2" y="859.5" textLength="152.6" lengthAdjust="spacing">place has coffee down,</text>
<text class="u" x="697.8" y="885">make damn good toast too.</text>
</g>
</svg>
